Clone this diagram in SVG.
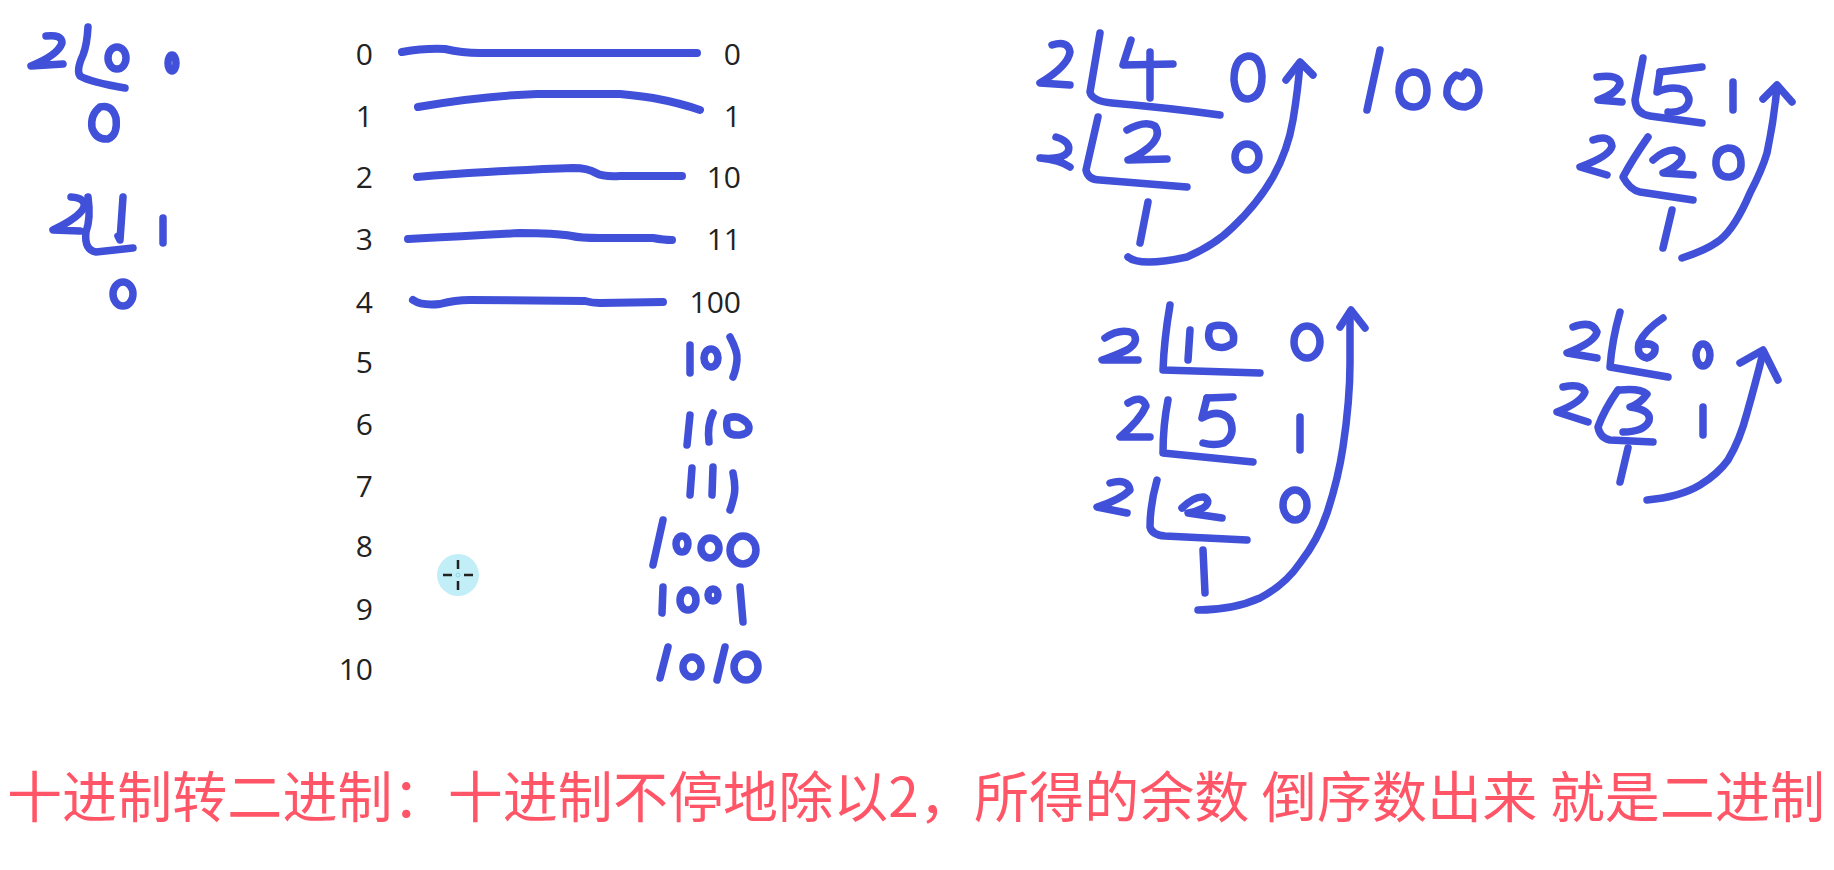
<svg xmlns="http://www.w3.org/2000/svg" width="1834" height="870" viewBox="0 0 1834 870">
<style>
.ink{fill:none;stroke:#4050D8;stroke-width:7.5;stroke-linecap:round;stroke-linejoin:round}
.thick{stroke-width:8}
.num{font-family:"Open Sans","Noto Sans",sans-serif;font-size:30px;fill:#222;text-anchor:end}
.cap{font-family:"Noto Sans CJK SC","Noto Sans",sans-serif;font-size:55px;fill:#FF5566}
</style>
<rect width="1834" height="870" fill="#fff"/>

<g id="left-work">
<path class="ink" d="M46,36 Q62,34 62,43 Q58,55 31,66 L63,64"/>
<path class="ink" d="M88,27 Q87,45 83,55 Q76,70 80,76 Q90,82 125,88"/>
<ellipse class="ink" cx="117" cy="58" rx="9" ry="11"/>
<ellipse class="ink" cx="172" cy="63" rx="4" ry="8"/>
<path class="ink" d="M100,107 Q90,115 92,128 Q96,140 108,139 Q118,135 116,118 Q112,104 100,107 Z"/>
<path class="ink" d="M71,197 Q86,198 84,207 Q80,217 53,230 L80,231"/>
<path class="ink" d="M88,197 Q91,218 86,232 Q84,250 96,252 L133,248"/>
<path class="ink" d="M123,197 L120,240 L118,236"/>
<path class="ink" d="M163,218 L163,243"/>
<ellipse class="ink" cx="123" cy="294" rx="10" ry="12"/>
</g>

<g id="table">
<text class="num" x="373" y="65">0</text>
<text class="num" x="373" y="127">1</text>
<text class="num" x="373" y="188">2</text>
<text class="num" x="373" y="250">3</text>
<text class="num" x="373" y="313">4</text>
<text class="num" x="373" y="373">5</text>
<text class="num" x="373" y="435">6</text>
<text class="num" x="373" y="497">7</text>
<text class="num" x="373" y="557">8</text>
<text class="num" x="373" y="620">9</text>
<text class="num" x="373" y="680">10</text>
<text class="num" x="741" y="65">0</text>
<text class="num" x="741" y="127">1</text>
<text class="num" x="741" y="188">10</text>
<text class="num" x="741" y="250">11</text>
<text class="num" x="741" y="313">100</text>
</g>

<g id="connectors">
<path class="ink thick" d="M402,52 Q425,48 445,49 Q462,53 480,53 L697,53"/>
<path class="ink thick" d="M418,107 Q480,96 537,94 L620,94 Q640,96 653,98 Q680,103 700,110"/>
<path class="ink thick" d="M417,177 Q450,174 487,172 Q540,169 573,168 Q588,168 596,173 Q603,177 620,176 L682,176"/>
<path class="ink thick" d="M408,239 Q470,236 520,233 Q555,233 572,236 Q580,238 600,238 L653,238 Q664,240 672,240"/>
<path class="ink thick" d="M413,300 Q422,306 440,304 Q455,300 470,300 L585,301 Q592,303 600,303 L663,302"/>
</g>

<g id="binary-5-10">
<path class="ink" d="M690,345 L690,373"/>
<ellipse class="ink" cx="711" cy="358" rx="7" ry="9"/>
<path class="ink" d="M730,337 Q738,352 737,360 Q736,370 733,377"/>
<path class="ink" d="M690,415 L687,445"/>
<path class="ink" d="M713,413 Q707,425 709,442"/>
<path class="ink" d="M728,418 Q740,414 748,424 Q752,433 740,435 Q728,436 727,428 Q726,421 728,418 Z"/>
<path class="ink" d="M692,468 L690,495"/>
<path class="ink" d="M713,467 L712,495"/>
<path class="ink" d="M733,473 Q736,487 734,496 Q732,505 730,510"/>
<path class="ink" d="M663,520 L653,565"/>
<ellipse class="ink" cx="682" cy="544" rx="6" ry="8"/>
<ellipse class="ink" cx="710" cy="548" rx="9" ry="10"/>
<ellipse class="ink" cx="743" cy="550" rx="13" ry="14"/>
<path class="ink" d="M663,587 L662,613"/>
<ellipse class="ink" cx="688" cy="600" rx="8" ry="10"/>
<ellipse class="ink" cx="713" cy="595" rx="5" ry="6"/>
<path class="ink" d="M740,587 L743,622"/>
<path class="ink" d="M668,647 L660,678"/>
<ellipse class="ink" cx="692" cy="667" rx="9" ry="10"/>
<path class="ink" d="M725,647 L717,680"/>
<ellipse class="ink" cx="746" cy="667" rx="12" ry="13"/>
</g>

<g id="division-4">
<path class="ink" d="M1052,45 Q1068,40 1070,52 Q1068,66 1040,83 L1070,85"/>
<path class="ink" d="M1100,33 L1090,92 Q1092,101 1112,103 Q1170,108 1220,115"/>
<path class="ink" d="M1131,40 L1123,65 L1173,64"/>
<path class="ink" d="M1150,52 L1150,98"/>
<path class="ink" d="M1248,56 Q1234,58 1234,80 Q1236,99 1248,99 Q1262,97 1262,76 Q1261,56 1248,56 Z"/>
<path class="ink" d="M1056,137 Q1072,142 1068,152 Q1062,160 1040,158 Q1060,160 1070,167"/>
<path class="ink" d="M1098,117 L1086,170 Q1088,180 1100,180 L1187,187"/>
<path class="ink" d="M1127,130 Q1145,120 1155,126 Q1162,136 1148,148 Q1138,156 1128,160 L1167,159"/>
<ellipse class="ink" cx="1247" cy="157" rx="12" ry="13"/>
<path class="ink" d="M1148,202 L1140,243"/>
<path class="ink" d="M1128,257 Q1140,267 1187,257 Q1215,245 1233,227 Q1258,203 1273,177 Q1288,150 1293,120 Q1298,90 1300,63"/>
<path class="ink" d="M1286,80 L1300,62 L1313,75"/>
<path class="ink" d="M1380,50 L1367,110"/>
<path class="ink" d="M1413,72 Q1399,74 1399,92 Q1401,107 1414,107 Q1427,106 1427,90 Q1426,72 1413,72 Z"/>
<path class="ink" d="M1456,75 Q1446,82 1447,95 Q1452,107 1465,107 Q1478,104 1479,90 Q1478,73 1466,72 L1462,77 Z"/>
</g>

<g id="division-5">
<path class="ink" d="M1597,77 Q1620,74 1620,84 Q1616,94 1598,100 L1622,102"/>
<path class="ink" d="M1643,58 L1635,100 Q1636,114 1650,116 L1702,123"/>
<path class="ink" d="M1660,72 L1702,67"/>
<path class="ink" d="M1660,72 L1657,92 Q1672,85 1684,90 Q1694,100 1684,109 Q1676,113 1668,112"/>
<path class="ink" d="M1733,82 L1733,110"/>
<path class="ink" d="M1593,140 Q1610,134 1612,146 Q1610,156 1580,167 L1607,175"/>
<path class="ink" d="M1648,137 Q1632,160 1623,177 Q1630,190 1640,192 L1693,200"/>
<path class="ink" d="M1653,160 Q1664,150 1674,150 Q1686,153 1680,162 Q1672,170 1663,173 L1693,175"/>
<path class="ink" d="M1728,148 Q1715,150 1716,165 Q1718,178 1730,177 Q1742,175 1741,162 Q1740,148 1728,148 Z"/>
<path class="ink" d="M1672,210 L1663,248"/>
<path class="ink" d="M1682,258 Q1707,250 1720,240 Q1735,228 1750,193 Q1762,170 1767,153 Q1774,120 1777,87"/>
<path class="ink" d="M1763,99 L1777,85 L1792,102"/>
</g>

<g id="division-10">
<path class="ink" d="M1105,338 Q1120,328 1133,333 Q1140,342 1127,350 Q1112,357 1102,360 L1138,360"/>
<path class="ink" d="M1170,305 Q1164,340 1163,370 L1260,373"/>
<path class="ink" d="M1190,330 L1188,360"/>
<path class="ink" d="M1210,328 Q1214,324 1226,326 Q1236,332 1233,343 Q1224,350 1214,346 Q1206,340 1210,328 Z"/>
<ellipse class="ink" cx="1307" cy="342" rx="13" ry="16"/>
<path class="ink" d="M1128,403 Q1142,394 1146,406 Q1140,420 1120,437 L1150,437"/>
<path class="ink" d="M1168,400 Q1163,425 1163,453 L1253,462"/>
<path class="ink" d="M1207,398 L1233,397"/>
<path class="ink" d="M1207,398 L1202,418 Q1220,408 1230,420 Q1236,435 1224,443 Q1214,446 1203,443"/>
<path class="ink" d="M1300,417 L1300,450"/>
<path class="ink" d="M1110,483 Q1128,478 1130,490 Q1120,500 1097,507 L1127,513"/>
<path class="ink" d="M1157,480 Q1150,505 1150,527 Q1152,535 1165,536 L1247,540"/>
<path class="ink" d="M1182,508 Q1194,496 1204,497 Q1212,502 1203,508 Q1195,512 1188,513 L1222,518"/>
<ellipse class="ink" cx="1295" cy="505" rx="12" ry="15"/>
<path class="ink" d="M1203,550 L1205,593"/>
<path class="ink" d="M1198,610 Q1233,610 1260,598 Q1285,585 1300,563 Q1318,540 1327,513 Q1338,480 1343,447 Q1350,400 1350,363 L1350,313"/>
<path class="ink" d="M1340,327 L1351,310 L1365,328"/>
</g>

<g id="division-6">
<path class="ink" d="M1573,327 Q1592,320 1597,332 Q1595,342 1567,353 L1597,358"/>
<path class="ink" d="M1620,312 Q1612,340 1610,367 L1668,377"/>
<path class="ink" d="M1663,318 Q1645,330 1639,343 Q1636,356 1647,358 Q1656,355 1655,347 Q1650,342 1640,345"/>
<ellipse class="ink" cx="1703" cy="355" rx="7" ry="11"/>
<path class="ink" d="M1563,387 Q1582,383 1585,392 Q1582,402 1557,412 L1588,422"/>
<path class="ink" d="M1618,390 Q1604,410 1598,427 Q1600,438 1610,440 L1653,442"/>
<path class="ink" d="M1620,390 Q1640,388 1647,394 Q1640,404 1630,407 Q1652,410 1649,421 Q1644,432 1623,432"/>
<path class="ink" d="M1703,407 L1703,435"/>
<path class="ink" d="M1628,448 L1620,482"/>
<path class="ink" d="M1647,500 Q1680,497 1700,485 Q1718,474 1728,460 Q1740,440 1747,413 Q1755,385 1763,353"/>
<path class="ink" d="M1740,363 L1763,350 L1778,380"/>
</g>

<g id="cursor">
<circle cx="458" cy="575" r="21" fill="#C2EEF8"/>
<path d="M458,560 V569 M458,581 V590 M443,575 H452 M464,575 H473" stroke="#222" stroke-width="2.5" fill="none"/>
<circle cx="458" cy="575" r="2" fill="none" stroke="#8fd8e8" stroke-width="1"/>
</g>

<g id="caption">
<text class="cap" x="7" y="817" textLength="1818" lengthAdjust="spacing">十进制转二进制：十进制不停地除以2，所得的余数 倒序数出来 就是二进制</text>
</g>
</svg>
